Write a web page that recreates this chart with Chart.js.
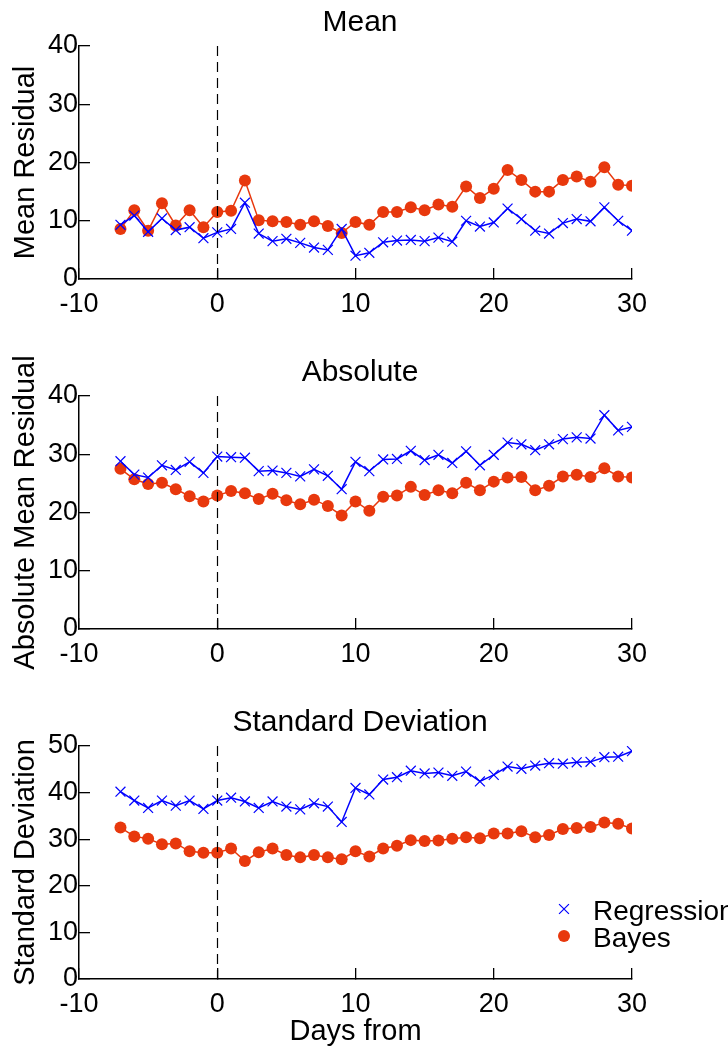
<!DOCTYPE html>
<html>
<head>
<meta charset="utf-8">
<script src="https://cdn.jsdelivr.net/npm/chart.js@4.4.1/dist/chart.umd.min.js"></script>
<style>
  body { margin: 0; background: #fff; }
  canvas { display: block; }
</style>
</head>
<body>
<canvas id="meanChart" width="728" height="350"></canvas>
<canvas id="absChart" width="728" height="350"></canvas>
<canvas id="sdChart" width="728" height="350"></canvas>
<script>
// days relative to the event
const days = [-7, -6, -5, -4, -3, -2, -1, 0, 1, 2, 3, 4, 5, 6, 7, 8, 9, 10, 11, 12,
  13, 14, 15, 16, 17, 18, 19, 20, 21, 22, 23, 24, 25, 26, 27, 28, 29, 30];
const eventDay = 0;
const xTicks = [-10, 0, 10, 20, 30];

const meanRegression = [9.3, 10.9, 8.1, 10.4, 8.4, 8.9, 7.0,
  8.0, 8.6, 13.1, 7.8, 6.5, 6.9, 6.2, 5.4, 5.0, 8.6,
  4.0, 4.5, 6.3, 6.6, 6.7, 6.5, 7.1, 6.4, 10.0, 9.0,
  9.7, 12.1, 10.3, 8.3, 7.8, 9.6, 10.3, 9.9, 12.3, 10.0, 8.3];
const meanBayes = [8.6, 11.8, 8.3, 13.0, 9.2, 11.8, 8.9,
  11.5, 11.7, 16.9, 10.1, 9.9, 9.8, 9.3, 9.9, 9.1, 7.9,
  9.8, 9.3, 11.5, 11.5, 12.3, 11.8, 12.8, 12.4, 15.9, 13.9,
  15.5, 18.7, 17.0, 15.0, 15.0, 17.0, 17.6, 16.7, 19.2, 16.2, 16.0];

const absRegression = [28.8, 26.5, 26.0, 28.1, 27.3, 28.7, 26.8,
  29.6, 29.5, 29.4, 27.1, 27.2, 26.8, 26.2, 27.4, 26.3, 24.0,
  28.7, 27.1, 29.1, 29.2, 30.6, 29.0, 29.9, 28.5, 30.5, 28.1,
  29.9, 32.0, 31.7, 30.7, 31.7, 32.6, 32.9, 32.7, 36.7, 34.1, 34.7];
const absBayes = [27.5, 25.7, 24.9, 25.1, 24.0, 22.8, 21.9,
  22.9, 23.7, 23.3, 22.3, 23.2, 22.1, 21.4, 22.2, 21.1, 19.5,
  21.9, 20.3, 22.7, 22.9, 24.4, 23.0, 23.8, 23.3, 25.1, 23.8,
  25.3, 26.0, 26.1, 23.8, 24.6, 26.2, 26.5, 26.1, 27.6, 26.2, 26.0];

const sdRegression = [40.2, 38.3, 36.7, 38.3, 37.2, 38.3, 36.5,
  38.3, 38.9, 38.1, 36.7, 38.1, 37.0, 36.4, 37.7, 37.0, 33.7,
  41.0, 39.6, 42.8, 43.3, 44.7, 44.1, 44.3, 43.6, 44.5, 42.4,
  43.8, 45.6, 45.1, 45.8, 46.3, 46.2, 46.5, 46.6, 47.6, 47.7, 48.9];
const sdBayes = [32.5, 30.6, 30.1, 28.9, 29.1, 27.4, 27.1,
  27.1, 28.0, 25.3, 27.2, 28.0, 26.6, 26.1, 26.6, 26.1, 25.7,
  27.4, 26.3, 28.0, 28.6, 29.8, 29.6, 29.7, 30.1, 30.4, 30.2,
  31.2, 31.2, 31.7, 30.4, 30.9, 32.2, 32.4, 32.6, 33.6, 33.3, 32.3];

const seriesNames = ['Regression', 'Bayes'];

const FONT = '"Liberation Sans", Arial, sans-serif';
const BLUE = '#0000ff';
const RED = '#e8380d';

// dashed line at the event day
const eventLine = {
  id: 'eventLine',
  afterDatasetsDraw(chart) {
    const {ctx, chartArea, scales} = chart;
    const x = Math.round(scales.x.getPixelForValue(eventDay)) + 0.5;
    ctx.save();
    ctx.strokeStyle = '#000';
    ctx.lineWidth = 1.2;
    ctx.setLineDash([10, 6]);
    ctx.beginPath();
    ctx.moveTo(x, chartArea.top);
    ctx.lineTo(x, chartArea.bottom);
    ctx.stroke();
    ctx.restore();
  }
};

// legend sitting inside the bottom-right of the last panel
const cornerLegend = {
  id: 'cornerLegend',
  afterDraw(chart) {
    const {ctx, chartArea} = chart;
    const mx = chartArea.right - 68;
    let y = chartArea.top + 163;
    ctx.save();
    ctx.font = '28px ' + FONT;
    ctx.textBaseline = 'middle';
    ctx.textAlign = 'left';
    chart.data.datasets.forEach(ds => {
      ctx.strokeStyle = ds.borderColor;
      ctx.fillStyle = ds.pointBackgroundColor;
      ctx.lineWidth = ds.pointBorderWidth || 1;
      Chart.helpers.drawPoint(ctx, {
        pointStyle: ds.pointStyle,
        radius: ds.pointRadius,
        borderWidth: ds.pointBorderWidth,
        rotation: 0
      }, mx, y);
      ctx.fillStyle = '#000';
      ctx.fillText(ds.label, mx + 29, y + 3);
      y += 27;
    });
    ctx.restore();
  }
};

function makePanel(id, title, yLabel, yMax, regression, bayes, last) {
  const ctx = document.getElementById(id).getContext('2d');
  return new Chart(ctx, {
    type: 'line',
    data: {
      datasets: [{
        label: seriesNames[0],
        data: days.map((d, i) => ({x: d, y: regression[i]})),
        borderColor: BLUE,
        backgroundColor: BLUE,
        borderWidth: 1.5,
        pointStyle: 'crossRot',
        pointRadius: 7,
        pointBorderWidth: 1.2,
        pointBackgroundColor: BLUE,
        tension: 0
      }, {
        label: seriesNames[1],
        data: days.map((d, i) => ({x: d, y: bayes[i]})),
        borderColor: RED,
        backgroundColor: RED,
        borderWidth: 1.5,
        pointStyle: 'circle',
        pointRadius: 6,
        pointBorderWidth: 0,
        pointBackgroundColor: RED,
        tension: 0
      }]
    },
    options: {
      responsive: false,
      animation: false,
      devicePixelRatio: 1,
      layout: { padding: { left: 0, right: 8, top: 0, bottom: 0 } },
      plugins: {
        legend: { display: false },
        tooltip: { enabled: false },
        title: {
          display: true,
          text: title,
          color: '#000',
          font: { family: FONT, size: 30, weight: 'normal' },
          padding: { top: 5, bottom: 5 }
        }
      },
      scales: {
        x: {
          type: 'linear',
          min: xTicks[0],
          max: xTicks[xTicks.length - 1],
          afterBuildTicks: s => { s.ticks = xTicks.map(v => ({value: v})); },
          afterFit: s => { s.height = 71; },
          border: { display: true, color: '#000', width: 1.5 },
          grid: { drawOnChartArea: false, drawTicks: true, tickLength: -11, color: '#000', lineWidth: 1.3 },
          ticks: { color: '#000', padding: 20, maxRotation: 0, font: { family: FONT, size: 27 } },
          title: {
            display: last,
            text: 'Days from',
            color: '#000',
            font: { family: FONT, size: 29 },
            padding: { top: 0, bottom: 1 }
          }
        },
        y: {
          min: 0,
          max: yMax,
          afterFit: s => { s.width = 79; },
          border: { display: true, color: '#000', width: 1.5 },
          grid: { drawOnChartArea: false, drawTicks: true, tickLength: -11, color: '#000', lineWidth: 1.3 },
          ticks: { stepSize: 10, color: '#000', padding: 12, font: { family: FONT, size: 27 } },
          title: {
            display: true,
            text: yLabel,
            color: '#000',
            font: { family: FONT, size: 29 },
            padding: { top: 9, bottom: 0 }
          }
        },
        // empty right-hand strip that holds the legend overflow
        yRight: {
          position: 'right',
          display: true,
          min: 0,
          max: yMax,
          afterFit: s => { s.width = 88; },
          border: { display: false },
          grid: { display: false },
          ticks: { display: false }
        }
      }
    },
    plugins: last ? [eventLine, cornerLegend] : [eventLine]
  });
}

makePanel('meanChart', 'Mean', 'Mean Residual', 40, meanRegression, meanBayes, false);
makePanel('absChart', 'Absolute', 'Absolute Mean Residual', 40, absRegression, absBayes, false);
makePanel('sdChart', 'Standard Deviation', 'Standard Deviation', 50, sdRegression, sdBayes, true);
</script>
</body>
</html>
